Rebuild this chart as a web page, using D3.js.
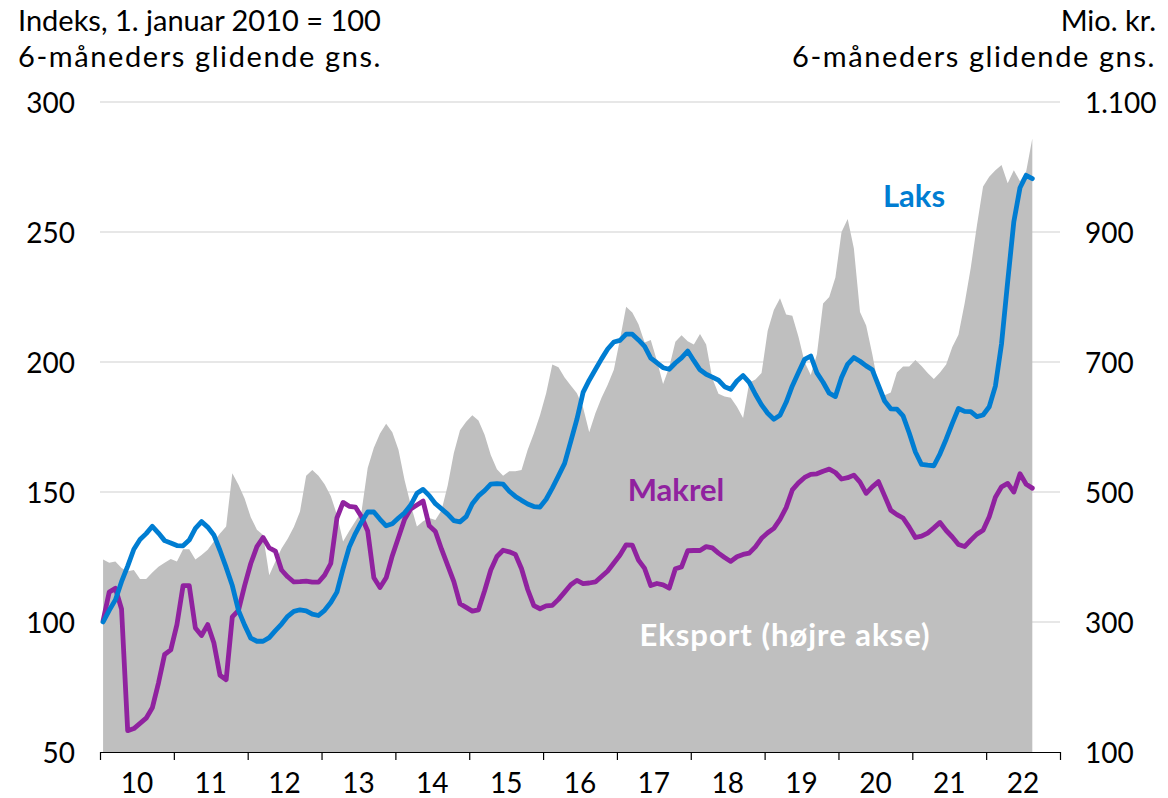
<!DOCTYPE html>
<html>
<head>
<meta charset="utf-8">
<script src="https://cdn.jsdelivr.net/npm/d3@7"></script>
<style>
  html, body { margin: 0; padding: 0; background: #ffffff; }
  svg { display: block; }
  text { font-family: Lato, "Open Sans", sans-serif; }
</style>
</head>
<body>
<svg id="chart" width="1168" height="798"></svg>
<script>
// ---- Data (monthly, Jan 2010 - Aug 2022) ----
const years = ["10","11","12","13","14","15","16","17","18","19","20","21","22"];
const leftTicks = [50, 100, 150, 200, 250, 300];
const rightTicks = [100, 300, 500, 700, 900, 1100];
const rightTickLabels = ["100", "300", "500", "700", "900", "1.100"];

// Laks (index, 1 Jan 2010 = 100)
const laks = [
  100, 104.5, 108.5, 115.5, 121.5, 128, 131.7, 134, 136.8, 134.2, 131.3, 130.4,
  129.4, 129.3, 131.5, 136, 138.6, 136.5, 133.5, 127.5, 121, 114, 104.5, 98.8,
  93.8, 92.6, 92.6, 94, 96.7, 99.2, 102.2, 104.1, 104.7, 104.3, 103, 102.5,
  104.5, 107.5, 111.5, 120.5, 128.8, 134, 138.5, 142.3, 142.3, 139.5, 137, 137.8,
  140, 142, 145, 149.5, 151, 148.6, 145.5, 143.5, 141.5, 139, 138.5, 140.5,
  145.5, 148.5, 150.5, 153, 153.2, 153, 150.3, 148.3, 146.8, 145.4, 144.4, 144.2,
  147.2, 151.5, 156.2, 161, 169.5, 178, 188.3, 193, 197.1, 201.2, 205, 207.7,
  208.3, 210.7, 210.7, 208.5, 206, 201.5, 199.7, 197.8, 197.2, 199.6, 201.6, 204.2,
  200.5, 197, 195.3, 194.2, 193, 190.5, 189.5, 192.7, 194.8, 192.2, 187.6, 183.5,
  180.3, 178, 179.5, 184.5, 190.8, 196, 201, 202.3, 195.8, 192.2, 188, 186.7,
  194, 199.2, 201.7, 200.3, 198.5, 197, 191, 185, 182, 181.9, 179.3, 172.7,
  165.4, 160.6, 160.3, 160.1, 164.7, 170.3, 176.4, 182.1, 181, 180.9, 179, 179.6,
  182.8, 190.7, 207, 231, 254, 267, 271.8, 270.5
];

// Makrel (index, 1 Jan 2010 = 100)
const makrel = [
  100.5, 111.5, 113, 105, 58.2, 59, 61, 63, 67, 76.5, 87.5, 89.3,
  99, 114, 114, 97.7, 94.8, 99, 92, 79.5, 77.8, 102, 104.5, 114,
  122.5, 129, 132.5, 128.5, 127.3, 120, 117.4, 115.4, 115.5, 115.7, 115.3, 115.3,
  118, 122.5, 140, 146, 144.5, 144.2, 140.5, 135, 117, 113.3, 117, 125.5,
  132.5, 139.5, 143.5, 145, 146.5, 137, 134.8, 128, 121.8, 115.5, 107, 105.6,
  104.2, 104.7, 112, 120, 125.2, 127.6, 127, 126, 120.5, 112.5, 106.3, 105.1,
  106.2, 106.4, 108.7, 111.5, 114.3, 116, 114.8, 115, 115.4, 117.5, 119.6, 122.7,
  125.8, 129.7, 129.6, 123.8, 120.6, 114, 114.8, 114.3, 113, 120.5, 121.2, 127.4,
  127.5, 127.5, 129, 128.5, 126.5, 124.8, 123.3, 125.1, 126, 126.5, 128.9, 132.2,
  134.3, 136, 139.5, 144, 150.8, 153.5, 155.6, 156.8, 157, 158, 158.8, 157.5,
  155, 155.5, 156.5, 153.8, 149.5, 152, 154, 148.5, 143, 141.3, 140, 136.5,
  132.5, 133, 134.2, 136.2, 138.3, 135.2, 132.7, 129.8, 129, 131.5, 133.8, 135.3,
  140.5, 148, 152, 153.3, 150, 157, 153, 151.5
];

// Eksport (mio. kr., right axis)
const eksport = [
  396, 391, 393, 383, 378, 380, 366, 366, 376, 385, 391, 397,
  393, 412, 412, 396, 403, 411, 424, 436, 447, 529, 511, 490,
  461, 442, 434, 372, 393, 413, 428, 446, 470, 525, 534, 525,
  512, 494, 465, 424, 440, 455, 470, 537, 568, 590, 605, 592,
  565, 518, 480, 447, 455, 460, 457, 472, 510, 560, 595, 608,
  618, 610, 588, 557, 535, 525, 532, 532, 534, 565, 590, 618,
  652, 696, 692, 676, 664, 652, 630, 592, 621, 645, 665, 688,
  735, 785, 776, 758, 730, 734, 702, 666, 692, 731, 741, 732,
  727, 743, 727, 675, 651, 647, 645, 631, 614, 668, 673, 683,
  748, 780, 798, 773, 771, 739, 700, 680, 712, 790, 800, 830,
  900, 920, 875, 777, 756, 712, 662, 649, 653, 684, 693, 693,
  703, 694, 683, 674, 684, 696, 723, 742, 790, 845, 910, 970,
  985, 995, 1003, 975, 995, 978, 993, 1044
];

// ---- Layout ----
const svg = d3.select("#chart");
const plotLeft = 100, plotRight = 1060, plotTop = 102, plotBottom = 752;
const nMonths = years.length * 12;

const x = d3.scaleLinear().domain([0, nMonths]).range([plotLeft, plotRight]);
const yL = d3.scaleLinear().domain([50, 300]).range([plotBottom, plotTop]);
const yR = d3.scaleLinear().domain([100, 1100]).range([plotBottom, plotTop]);

const fs = 28;

// Gridlines
svg.append("g").selectAll("line")
  .data(leftTicks.filter(d => d > 50))
  .join("line")
  .attr("x1", plotLeft).attr("x2", plotRight)
  .attr("y1", d => yL(d)).attr("y2", d => yL(d))
  .attr("stroke", "#cfcfcf").attr("stroke-width", 1.2);

// Export area
const area = d3.area()
  .x((d, i) => x(i + 0.5))
  .y0(yR(100))
  .y1(d => yR(d));
svg.append("path").datum(eksport)
  .attr("d", area)
  .attr("fill", "#bfbfbf");

// Lines
const lineL = d3.line()
  .x((d, i) => x(i + 0.5))
  .y(d => yL(d));
svg.append("path").datum(makrel)
  .attr("d", lineL)
  .attr("fill", "none")
  .attr("stroke", "#90229f")
  .attr("stroke-width", 4.8)
  .attr("stroke-linejoin", "round")
  .attr("stroke-linecap", "round");
svg.append("path").datum(laks)
  .attr("d", lineL)
  .attr("fill", "none")
  .attr("stroke", "#007dd2")
  .attr("stroke-width", 4.8)
  .attr("stroke-linejoin", "round")
  .attr("stroke-linecap", "round");

// X axis
const xAxis = d3.axisBottom(x)
  .tickValues(d3.range(0, nMonths + 1, 12))
  .tickSize(8)
  .tickSizeOuter(0)
  .tickFormat("");
const gx = svg.append("g")
  .attr("transform", `translate(0,${plotBottom})`)
  .call(xAxis);
gx.select(".domain").attr("stroke", "#000").attr("stroke-width", 1.2);
gx.selectAll(".tick line").attr("stroke", "#000").attr("stroke-width", 1.2);

svg.append("g").selectAll("text")
  .data(years)
  .join("text")
  .attr("x", (d, i) => x(i * 12 + 6))
  .attr("y", 793)
  .attr("text-anchor", "middle")
  .attr("font-size", fs)
  .attr("fill", "#000")
  .text(d => d);

// Left axis labels
const gl = svg.append("g")
  .attr("transform", `translate(75,0)`)
  .call(d3.axisLeft(yL).tickValues(leftTicks).tickSize(0).tickPadding(0));
gl.select(".domain").remove();
gl.selectAll("text").attr("font-size", fs).attr("fill", "#000")
  .attr("font-family", "Lato, 'Open Sans', sans-serif").attr("dy", "0.36em");

// Right axis labels
const gr = svg.append("g")
  .attr("transform", `translate(1085,0)`)
  .call(d3.axisRight(yR).tickValues(rightTicks).tickSize(0).tickPadding(0)
    .tickFormat((d, i) => rightTickLabels[i]));
gr.select(".domain").remove();
gr.selectAll("text").attr("font-size", fs).attr("fill", "#000")
  .attr("font-family", "Lato, 'Open Sans', sans-serif").attr("dy", "0.36em");

// Titles
const titleL = ["Indeks, 1. januar 2010 = 100", "6-måneders glidende gns."];
const titleR = ["Mio. kr.", "6-måneders glidende gns."];
svg.append("g").selectAll("text").data(titleL).join("text")
  .attr("x", 18).attr("y", (d, i) => 31 + i * 36)
  .attr("letter-spacing", (d, i) => i === 1 ? 1.6 : 0)
  .attr("font-size", 29).attr("fill", "#000").text(d => d);
svg.append("g").selectAll("text").data(titleR).join("text")
  .attr("x", 1156).attr("y", (d, i) => 31 + i * 36)
  .attr("letter-spacing", (d, i) => i === 1 ? 1.6 : 0)
  .attr("text-anchor", "end")
  .attr("font-size", 29).attr("fill", "#000").text(d => d);

// Series labels
const labels = [
  { t: "Laks", cx: 914, cy: 196, c: "#007dd2", ls: 0 },
  { t: "Makrel", cx: 676, cy: 490, c: "#90229f", ls: 0 },
  { t: "Eksport (højre akse)", cx: 785, cy: 635, c: "#ffffff", ls: 1 }
];
svg.append("g").selectAll("text").data(labels).join("text")
  .attr("x", d => d.cx).attr("y", d => d.cy)
  .attr("dy", "0.35em")
  .attr("text-anchor", "middle")
  .attr("letter-spacing", d => d.ls)
  .attr("font-size", 31).attr("font-weight", "bold")
  .attr("fill", d => d.c).text(d => d.t);
</script>
</body>
</html>
